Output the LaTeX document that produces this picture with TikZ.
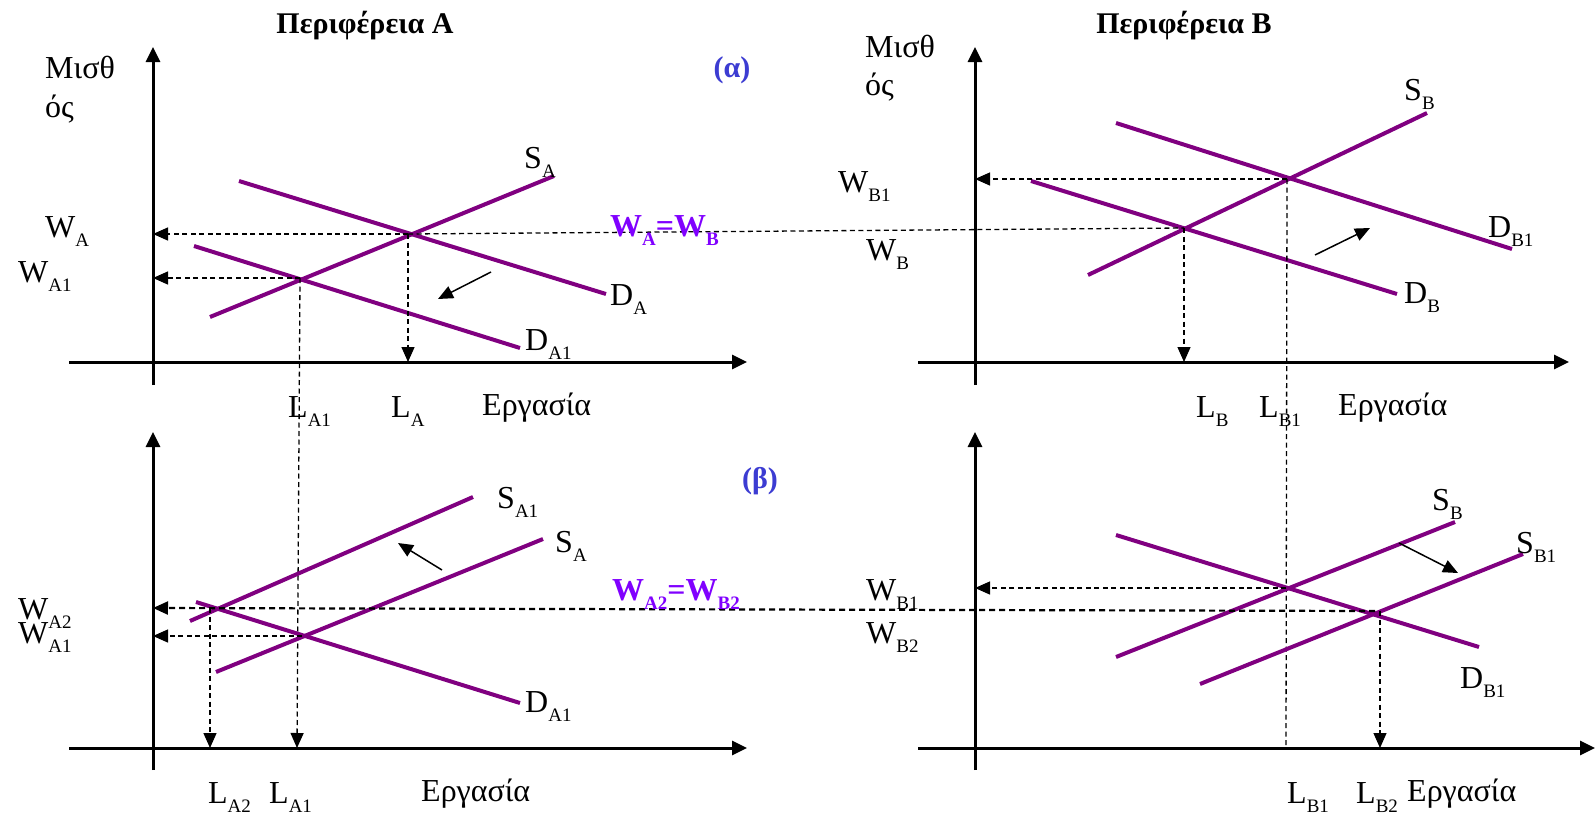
\documentclass[tikz,border=0pt]{standalone}
\usepackage{fontspec}
\setmainfont{Liberation Serif}
\usetikzlibrary{arrows.meta}
\definecolor{curvecol}{RGB}{128,0,128}
\definecolor{eqcol}{RGB}{128,0,255}
\definecolor{tagcol}{RGB}{60,60,210}
\newcommand\sbx[1]{\raisebox{-9pt}{\fontsize{19}{19}\selectfont #1}}
\begin{document}
\begin{tikzpicture}[x=1pt,y=-1pt,
  axis/.style={line width=3pt,-{Triangle[length=15pt,width=14pt]}},
  curve/.style={draw=curvecol,line width=4pt},
  guide/.style={dash pattern=on 5pt off 3.5pt,line width=1.3pt},
  guidearrow/.style={guide,-{Triangle[length=15pt,width=13pt]}},
  boldguide/.style={dash pattern=on 6pt off 4pt,line width=2.2pt,-{Triangle[length=15pt,width=13pt]}},
  shiftarrow/.style={line width=1.5pt,-{Triangle[length=15pt,width=13pt]}},
  lbl/.style={anchor=base west,inner sep=0pt,font=\fontsize{32}{38}\selectfont},
  ttl/.style={anchor=base,inner sep=0pt,font=\fontsize{30}{36}\selectfont\bfseries},
  tag/.style={anchor=base,inner sep=0pt,text=tagcol,font=\fontsize{30}{36}\selectfont\bfseries},
  eq/.style={anchor=base west,inner sep=0pt,text=eqcol,font=\fontsize{32}{38}\selectfont\bfseries}]
\useasboundingbox (0,0) rectangle (1596,814);

% ================= Panel A top =================
\coordinate (aYb) at (153,385); \coordinate (aYt) at (153,47);
\coordinate (aXl) at (69,362);  \coordinate (aXr) at (747,362);
\draw[axis] (aYb) -- (aYt);
\draw[axis] (aXl) -- (aXr);
\coordinate (sa1) at (210,317); \coordinate (sa2) at (554,176);
\coordinate (da1) at (239,181); \coordinate (da2) at (606,294);
\coordinate (dd1) at (194,246); \coordinate (dd2) at (520,348);
\draw[curve] (sa1) -- (sa2);
\draw[curve] (da1) -- (da2);
\draw[curve] (dd1) -- (dd2);
\coordinate (eA) at (408,234);
\coordinate (eA1) at (300,278);
\coordinate (eAax) at (153,234);
\coordinate (eA1ax) at (153,278);
\coordinate (eAdown) at (408,362);
\coordinate (eA1down) at (297,748);
\draw[guidearrow] (eA) -- (eAax);
\draw[guidearrow] (eA1) -- (eA1ax);
\draw[guidearrow] (eA) -- (eAdown);
\draw[guidearrow] (eA1) -- (eA1down);
\coordinate (shA1) at (491,272); \coordinate (shA2) at (438,299);
\draw[shiftarrow] (shA1) -- (shA2);

\node[ttl] (titleA) at (365,33) {Περιφέρεια Α};
\node[lbl] (ya1) at (45,78) {Μισθ};
\node[lbl] (ya2) at (45,117) {ός};
\node[tag] (tagA) at (732,77) {(α)};
\node[lbl] (lSA) at (524,168) {S\sbx{A}};
\node[lbl] (lDA) at (610,305) {D\sbx{A}};
\node[lbl] (lDA1) at (525,350) {D\sbx{A1}};
\node[lbl] (lWA) at (45,237) {W\sbx{A}};
\node[lbl] (lWA1) at (18,282) {W\sbx{A1}};
\node[lbl] (lLA1) at (288,417) {L\sbx{A1}};
\node[lbl] (lLA) at (391,417) {L\sbx{A}};
\node[lbl] (lEA) at (482,415) {Εργασία};

% ================= Panel B top =================
\coordinate (bYb) at (975,385); \coordinate (bYt) at (975,47);
\coordinate (bXl) at (918,362); \coordinate (bXr) at (1569,362);
\draw[axis] (bYb) -- (bYt);
\draw[axis] (bXl) -- (bXr);
\coordinate (sb1) at (1088,275); \coordinate (sb2) at (1427,113);
\coordinate (db11) at (1116,123); \coordinate (db12) at (1512,249);
\coordinate (db1) at (1031,181); \coordinate (db2) at (1397,294);
\draw[curve] (sb1) -- (sb2);
\draw[curve] (db11) -- (db12);
\draw[curve] (db1) -- (db2);
\coordinate (eB1) at (1287,179);
\coordinate (eB) at (1184,228);
\coordinate (eB1ax) at (975,179);
\coordinate (eBdown) at (1184,362);
\coordinate (eB1down) at (1286,748);
\draw[guidearrow] (eB1) -- (eB1ax);
\draw[guidearrow] (eB) -- (eBdown);
\draw[guide] (eB1) -- (eB1down);
\draw[guide] (eA) -- (eB);
\coordinate (shB1) at (1315,255); \coordinate (shB2) at (1370,228);
\draw[shiftarrow] (shB1) -- (shB2);

\node[ttl] (titleB) at (1184,33) {Περιφέρεια Β};
\node[lbl] (yb1) at (865,57) {Μισθ};
\node[lbl] (yb2) at (865,95) {ός};
\node[lbl] (lSB) at (1404,100) {S\sbx{B}};
\node[lbl] (lDB1) at (1488,237) {D\sbx{B1}};
\node[lbl] (lDB) at (1404,303) {D\sbx{B}};
\node[lbl] (lWB1) at (838,192) {W\sbx{B1}};
\node[lbl] (lWB) at (866,260) {W\sbx{B}};
\node[lbl] (lLB) at (1196,417) {L\sbx{B}};
\node[lbl] (lLB1) at (1259,417) {L\sbx{B1}};
\node[lbl] (lEB) at (1338,415) {Εργασία};
\node[eq] (eqtop) at (610,236) {W\sbx{A}=W\sbx{B}};

% ================= Panel A bottom =================
\coordinate (cYb) at (153,770); \coordinate (cYt) at (153,432);
\coordinate (cXl) at (69,748);  \coordinate (cXr) at (747,748);
\draw[axis] (cYb) -- (cYt);
\draw[axis] (cXl) -- (cXr);
\coordinate (sc11) at (190,621); \coordinate (sc12) at (473,497);
\coordinate (sc1) at (216,672);  \coordinate (sc2) at (543,539);
\coordinate (dc1) at (196,602);  \coordinate (dc2) at (520,703);
\draw[curve] (sc11) -- (sc12);
\draw[curve] (sc1) -- (sc2);
\draw[curve] (dc1) -- (dc2);
\coordinate (eC2) at (212,608);
\coordinate (eC1) at (302,636);
\coordinate (eC1ax) at (153,636);
\coordinate (eC2ax) at (153,608);
\coordinate (eC2top) at (210,608);
\coordinate (eC2down) at (210,748);
\draw[guidearrow] (eC1) -- (eC1ax);
\draw[guidearrow] (eC2top) -- (eC2down);
\coordinate (shC1) at (442,570); \coordinate (shC2) at (398,543);
\draw[shiftarrow] (shC1) -- (shC2);

\node[tag] (tagB) at (760,488) {(β)};
\node[lbl] (lSA1c) at (497,508) {S\sbx{A1}};
\node[lbl] (lSAc) at (555,552) {S\sbx{A}};
\node[lbl] (lDA1c) at (525,712) {D\sbx{A1}};
\node[lbl] (lWA2c) at (18,619) {W\sbx{A2}};
\node[lbl] (lWA1c) at (18,643) {W\sbx{A1}};
\node[lbl] (lLA2c) at (208,803) {L\sbx{A2}};
\node[lbl] (lLA1c) at (269,803) {L\sbx{A1}};
\node[lbl] (lEC) at (421,801) {Εργασία};

% ================= Panel B bottom =================
\coordinate (dYb) at (975,770); \coordinate (dYt) at (975,432);
\coordinate (dXl) at (918,748); \coordinate (dXr) at (1595,748);
\draw[axis] (dYb) -- (dYt);
\draw[axis] (dXl) -- (dXr);
\coordinate (sd1) at (1116,657); \coordinate (sd2) at (1455,522);
\coordinate (sd11) at (1200,684); \coordinate (sd12) at (1523,554);
\coordinate (dd11) at (1116,535); \coordinate (dd12) at (1479,647);
\draw[curve] (sd1) -- (sd2);
\draw[curve] (sd11) -- (sd12);
\draw[curve] (dd11) -- (dd12);
\coordinate (eD1) at (1286,588);
\coordinate (eD2) at (1375,611);
\coordinate (eD1ax) at (975,588);
\coordinate (eD2top) at (1380,611);
\coordinate (eD2down) at (1380,748);
\draw[guidearrow] (eD1) -- (eD1ax);
\draw[guidearrow] (eD2top) -- (eD2down);
\draw[boldguide] (eD2) -- (eC2ax);
\coordinate (shD1) at (1399,543); \coordinate (shD2) at (1458,573);
\draw[shiftarrow] (shD1) -- (shD2);

\node[lbl] (lSBd) at (1432,510) {S\sbx{B}};
\node[lbl] (lSB1d) at (1516,553) {S\sbx{B1}};
\node[lbl] (lDB1d) at (1460,688) {D\sbx{B1}};
\node[lbl] (lWB1d) at (866,600) {W\sbx{B1}};
\node[lbl] (lWB2d) at (866,643) {W\sbx{B2}};
\node[lbl] (lLB1d) at (1287,803) {L\sbx{B1}};
\node[lbl] (lLB2d) at (1356,803) {L\sbx{B2}};
\node[lbl] (lED) at (1407,801) {Εργασία};
\node[eq] (eqbot) at (612,600) {W\sbx{A2}=W\sbx{B2}};
\end{tikzpicture}
\end{document}
